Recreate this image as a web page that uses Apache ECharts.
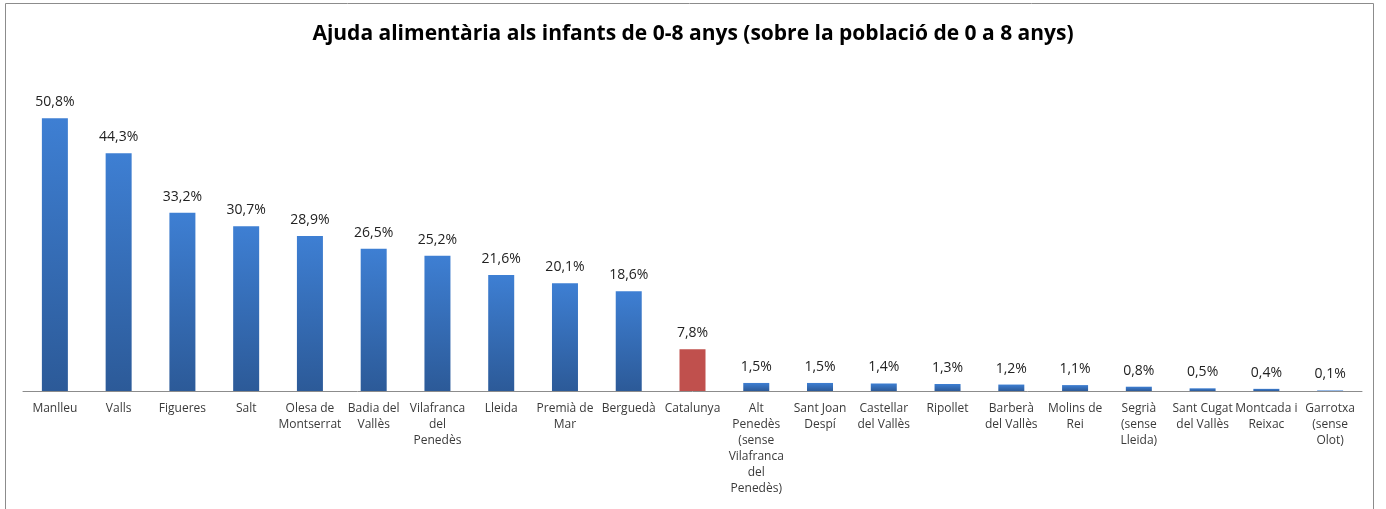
<!DOCTYPE html>
<html><head><meta charset="utf-8">
<script src="https://cdn.jsdelivr.net/npm/echarts@6/dist/echarts.min.js"></script>
<style>html,body{margin:0;padding:0;background:#fff}#c{width:1386px;height:509px}</style>
</head><body><div id="c"></div>
<script>
const titleText = 'Ajuda alimentària als infants de 0-8 anys (sobre la població de 0 a 8 anys)';
const categories = ['Manlleu','Valls','Figueres','Salt','Olesa de\nMontserrat','Badia del\nVallès','Vilafranca\ndel\nPenedès','Lleida','Premià de\nMar','Berguedà','Catalunya','Alt\nPenedès\n(sense\nVilafranca\ndel\nPenedès)','Sant Joan\nDespí','Castellar\ndel Vallès','Ripollet','Barberà\ndel Vallès','Molins de\nRei','Segrià\n(sense\nLleida)','Sant Cugat\ndel Vallès','Montcada i\nReixac','Garrotxa\n(sense\nOlot)'];
const values = [50.8,44.3,33.2,30.7,28.9,26.5,25.2,21.6,20.1,18.6,7.8,1.5,1.5,1.4,1.3,1.2,1.1,0.8,0.5,0.4,0.1];
const highlight = 'Catalunya';

const blue = new echarts.graphic.LinearGradient(0,0,0,1,[{offset:0,color:'#3e7fd3'},{offset:1,color:'#2c5a98'}]);
const red = '#c0504d';
const chart = echarts.init(document.getElementById('c'));
chart.setOption({
  animation:false,
  title:{text:titleText,left:'center',top:19,textStyle:{fontFamily:'Open Sans',fontWeight:'bold',fontSize:21,color:'#000'}},
  graphic:[{type:'rect',shape:{x:5.5,y:3.5,width:1368,height:530},style:{fill:'none',stroke:'#8c8c8c',lineWidth:1},silent:true}],
  grid:{left:23,right:24,top:69,bottom:118},
  xAxis:{type:'category',data:categories,axisLine:{lineStyle:{color:'#8c8c8c'}},axisTick:{show:false},
    axisLabel:{interval:0,color:'#3a3a3a',fontFamily:'Open Sans',fontSize:12,lineHeight:16,margin:10}},
  yAxis:{type:'value',min:0,max:60,show:false,splitLine:{show:false}},
  series:[{type:'bar',barWidth:26,
    data:values.map((v,i)=>({value:v,itemStyle:{color:categories[i]===highlight?red:blue}})),
    label:{show:true,position:'top',distance:9,color:'#222',fontFamily:'Open Sans',fontSize:14,
      formatter:p=>p.value.toFixed(1).replace('.',',')+'%'}}]
});
</script></body></html>
